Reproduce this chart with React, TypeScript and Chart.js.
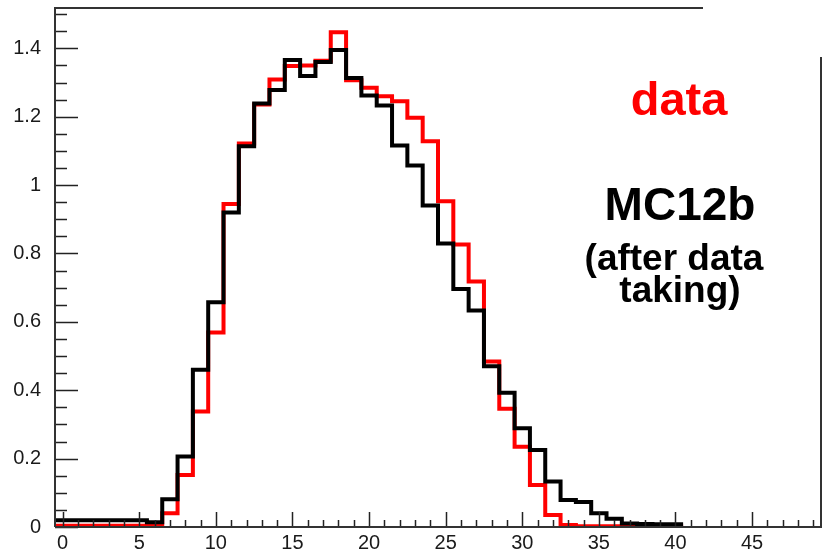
import React, { useEffect, useRef } from 'react';
import { Chart, registerables } from 'chart.js';

Chart.register(...registerables);

// Bin centres (bin width 1, edges at n-0.5 .. n+0.5)
const BIN_CENTERS = [
  0, 1, 2, 3, 4, 5, 6, 7, 8, 9,
  10, 11, 12, 13, 14, 15, 16, 17, 18, 19,
  20, 21, 22, 23, 24, 25, 26, 27, 28, 29,
  30, 31, 32, 33, 34, 35, 36, 37, 38, 39, 40,
];

// red histogram: "data"
const DATA_VALUES = [
  0.004, 0.004, 0.004, 0.004, 0.004, 0.004, 0.008, 0.040, 0.152, 0.338,
  0.569, 0.945, 1.122, 1.236, 1.309, 1.348, 1.350, 1.364, 1.447, 1.307,
  1.285, 1.260, 1.245, 1.197, 1.128, 0.953, 0.826, 0.718, 0.484, 0.346,
  0.235, 0.123, 0.035, 0.006, 0.002, 0.002, 0.002, 0.002, 0.002, 0.002, 0.002,
];

// black histogram: "MC12b (after data taking)"
const MC12B_VALUES = [
  0.020, 0.020, 0.020, 0.020, 0.020, 0.020, 0.014, 0.081, 0.206, 0.460,
  0.657, 0.920, 1.114, 1.239, 1.278, 1.366, 1.319, 1.360, 1.395, 1.313,
  1.262, 1.233, 1.116, 1.057, 0.940, 0.829, 0.696, 0.633, 0.470, 0.393,
  0.289, 0.225, 0.133, 0.079, 0.073, 0.040, 0.024, 0.010, 0.009, 0.008, 0.008,
];

const X_TICKS = [0, 5, 10, 15, 20, 25, 30, 35, 40, 45];
const X_MINOR_TICKS = Array.from({ length: 50 }, (_, i) => i);
const Y_TICKS = [0, 0.2, 0.4, 0.6, 0.8, 1, 1.2, 1.4];
const Y_MINOR_TICKS = Array.from({ length: 31 }, (_, i) => i * 0.05);
const X_MIN = -0.5;
const X_MAX = 49.5;
const Y_MIN = 0;
const Y_MAX = 1.518;

const LABEL_DATA = 'data';
const LABEL_MC = ['MC12b', '(after data', 'taking)'];

const FONT_FAMILY = '"Liberation Sans", Arial, Helvetica, sans-serif';

function toSteps(values: number[]) {
  const pts = values.map((v, i) => ({ x: BIN_CENTERS[i] - 0.5, y: v }));
  const last = values.length - 1;
  pts.push({ x: BIN_CENTERS[last] + 0.5, y: values[last] });
  return pts;
}

const rootFramePlugin = {
  id: 'rootFrame',
  afterDatasetsDraw(chart: any) {
    const { ctx, chartArea: a, scales } = chart;
    const xs = scales.x;
    const ys = scales.y;
    ctx.save();
    ctx.strokeStyle = '#222';
    ctx.lineWidth = 1.5;
    ctx.beginPath();
    // y ticks (inside frame, pointing right)
    Y_MINOR_TICKS.forEach((v) => {
      const yy = Math.round(ys.getPixelForValue(v)) + 0.5;
      const major = Y_TICKS.some((t) => Math.abs(t - v) < 1e-6);
      ctx.moveTo(a.left, yy);
      ctx.lineTo(a.left + (major ? 23 : 12), yy);
    });
    // x ticks (inside frame, pointing up)
    X_MINOR_TICKS.forEach((v) => {
      const xx = Math.round(xs.getPixelForValue(v)) + 0.5;
      const major = X_TICKS.includes(v);
      ctx.moveTo(xx, a.bottom);
      ctx.lineTo(xx, a.bottom - (major ? 15 : 7));
    });
    ctx.stroke();

    // frame
    ctx.strokeStyle = '#333';
    ctx.lineWidth = 2;
    ctx.beginPath();
    ctx.moveTo(a.left, a.bottom);
    ctx.lineTo(a.right, a.bottom);
    ctx.moveTo(a.left, a.bottom);
    ctx.lineTo(a.left, a.top);
    ctx.lineTo(703, a.top);
    ctx.moveTo(a.right, 57);
    ctx.lineTo(a.right, a.bottom + 1);
    ctx.stroke();
    ctx.restore();
  },
  afterDraw(chart: any) {
    const { ctx } = chart;
    ctx.save();
    ctx.textAlign = 'center';
    ctx.textBaseline = 'alphabetic';
    ctx.fillStyle = '#ff0000';
    ctx.font = `bold 47px ${FONT_FAMILY}`;
    ctx.fillText(LABEL_DATA, 679, 115);
    ctx.fillStyle = '#000';
    ctx.font = `bold 46px ${FONT_FAMILY}`;
    ctx.fillText(LABEL_MC[0], 680, 220);
    ctx.font = `bold 37px ${FONT_FAMILY}`;
    ctx.fillText(LABEL_MC[1], 674, 270);
    ctx.fillText(LABEL_MC[2], 680, 302);
    ctx.restore();
  },
};

export default function App() {
  const ref = useRef<HTMLCanvasElement | null>(null);

  useEffect(() => {
    if (!ref.current) return;
    const tickFont = { family: FONT_FAMILY, size: 20 };
    const chart = new Chart(ref.current, {
      type: 'line',
      data: {
        datasets: [
          {
            label: 'MC12b',
            data: toSteps(MC12B_VALUES),
            stepped: 'before',
            borderColor: '#000',
            borderWidth: 4,
            pointRadius: 0,
            fill: false,
            borderJoinStyle: 'miter',
            borderCapStyle: 'butt',
            order: 0,
          },
          {
            label: 'data',
            data: toSteps(DATA_VALUES),
            stepped: 'before',
            borderColor: '#ff0000',
            borderWidth: 4,
            pointRadius: 0,
            fill: false,
            borderJoinStyle: 'miter',
            borderCapStyle: 'butt',
            order: 1,
          },
        ],
      },
      options: {
        animation: false,
        responsive: false,
        maintainAspectRatio: false,
        layout: { padding: { top: 8, right: 2, left: 0, bottom: 0 } },
        plugins: { legend: { display: false }, tooltip: { enabled: false } },
        scales: {
          x: {
            type: 'linear',
            min: X_MIN,
            max: X_MAX,
            grid: { display: false },
            border: { display: false },
            ticks: {
              font: tickFont,
              color: '#1a1a1a',
              padding: -4,
              maxRotation: 0,
              autoSkip: false,
              callback: (v: any) => String(v),
            },
            afterBuildTicks: (s: any) => {
              s.ticks = X_TICKS.map((value) => ({ value }));
            },
            afterFit: (s: any) => {
              s.height = 26;
              s.paddingLeft = 0;
              s.paddingRight = 0;
            },
          },
          y: {
            type: 'linear',
            min: Y_MIN,
            max: Y_MAX,
            grid: { display: false },
            border: { display: false },
            ticks: {
              font: tickFont,
              color: '#1a1a1a',
              padding: 6,
              autoSkip: false,
              callback: (v: any) => String(Math.round(v * 10) / 10),
            },
            afterBuildTicks: (s: any) => {
              s.ticks = Y_TICKS.map((value) => ({ value }));
            },
            afterFit: (s: any) => {
              s.width = 55;
              s.paddingTop = 0;
              s.paddingBottom = 0;
            },
          },
        },
      },
      plugins: [rootFramePlugin],
    } as any);
    return () => chart.destroy();
  }, []);

  return (
    <div style={{ position: 'fixed', left: 0, top: 0, width: 823, height: 553, background: '#fff' }}>
      <canvas ref={ref} width={823} height={553} style={{ display: 'block' }} />
    </div>
  );
}
